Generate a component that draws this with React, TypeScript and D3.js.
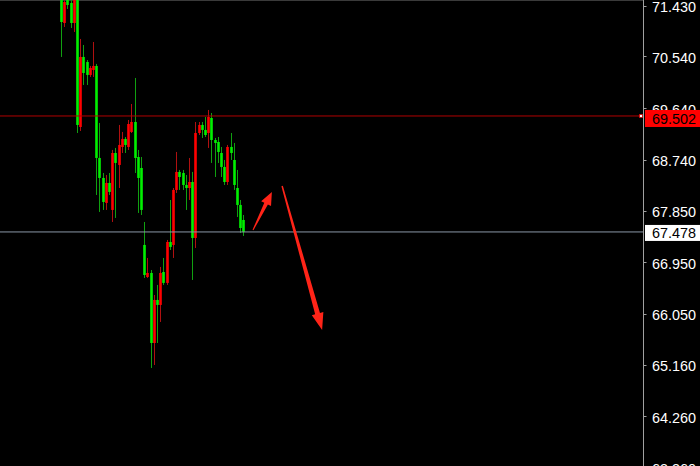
import React from 'react';
import * as d3 from 'd3';

// OHLC data (red = rising candle, green = falling candle)
const opens = [71.614, 71.125, 71.526, 71.474, 71.125, 71.561, 69.310, 70.532, 70.444, 70.218, 70.305, 70.375, 68.769, 68.420, 67.984, 68.333, 67.862, 68.856, 68.647, 68.961, 69.101, 68.961, 69.223, 69.397, 68.786, 68.594, 67.251, 66.692, 66.762, 65.540, 66.291, 66.204, 66.779, 66.588, 67.303, 67.251, 68.211, 68.525, 68.507, 68.298, 68.245, 68.350, 67.373, 69.205, 69.345, 69.258, 69.205, 69.467, 69.083, 69.048, 68.856, 68.612, 68.350, 68.961, 68.734, 68.245, 67.949, 67.687];
const highs = [71.736, 71.614, 71.579, 71.526, 71.666, 71.631, 70.846, 70.741, 70.479, 70.375, 70.793, 70.410, 69.380, 68.507, 68.472, 68.507, 68.909, 68.944, 69.345, 69.223, 69.135, 69.432, 69.711, 70.165, 68.909, 68.786, 67.652, 67.024, 66.814, 66.378, 66.553, 66.867, 67.024, 67.338, 68.036, 68.245, 68.874, 68.560, 68.560, 68.472, 68.769, 68.525, 69.397, 69.397, 69.397, 69.485, 69.607, 69.554, 69.118, 69.135, 68.961, 68.734, 68.996, 69.205, 69.031, 68.560, 68.036, 67.774];
const lows = [70.532, 71.055, 71.369, 71.038, 70.968, 69.205, 69.240, 70.043, 70.043, 70.183, 70.183, 68.123, 67.827, 67.862, 67.862, 68.123, 67.652, 67.722, 68.245, 68.856, 68.856, 68.909, 69.205, 68.507, 67.809, 67.774, 66.675, 66.675, 65.104, 65.156, 65.540, 65.907, 66.553, 66.553, 67.163, 67.024, 68.158, 68.211, 68.211, 67.862, 68.036, 66.640, 67.198, 69.170, 69.118, 69.135, 68.944, 68.682, 68.437, 68.682, 68.437, 68.298, 68.298, 68.734, 68.211, 67.739, 67.460, 67.408];
const closes = [71.142, 71.492, 71.439, 71.125, 71.561, 69.345, 70.532, 70.252, 70.218, 70.340, 70.375, 68.769, 68.420, 68.001, 68.333, 68.176, 68.856, 68.682, 68.996, 69.101, 68.996, 69.362, 69.397, 68.769, 68.420, 67.862, 66.727, 66.762, 65.540, 66.291, 66.204, 66.762, 66.588, 67.303, 67.216, 68.211, 68.525, 68.437, 68.298, 68.245, 68.350, 67.373, 69.205, 69.345, 69.258, 69.170, 69.485, 69.083, 69.031, 68.874, 68.612, 68.350, 68.961, 68.856, 68.298, 67.949, 67.547, 67.478];

const tickValues = [71.43, 70.54, 69.64, 68.74, 67.85, 66.95, 66.05, 65.16, 64.26, 63.36];
const bidPrice = 69.502;
const lastPrice = 67.478;

// annotation arrows in (bar index, price) units
const arrowTails = [[60.0, 67.513], [69.1, 68.28]];
const arrowTips = [[65.9, 68.176], [81.6, 65.767]];
const arrowSizes = [[1, 4, 11, 13], [1.5, 5, 12, 17]];

const W = 700;
const H = 466;
const AXIS_X = 643.5;

function arrowPath(x1: number, y1: number, x2: number, y2: number, tw: number, nw: number, hw: number, hl: number) {
  const dx = x2 - x1, dy = y2 - y1;
  const len = Math.hypot(dx, dy);
  const ux = dx / len, uy = dy / len;
  const nx = -uy, ny = ux;
  const kx = x2 - ux * hl, ky = y2 - uy * hl;
  const pts = [
    [x1 + nx * tw / 2, y1 + ny * tw / 2],
    [kx + nx * nw / 2, ky + ny * nw / 2],
    [kx + nx * hw / 2, ky + ny * hw / 2],
    [x2, y2],
    [kx - nx * hw / 2, ky - ny * hw / 2],
    [kx - nx * nw / 2, ky - ny * nw / 2],
    [x1 - nx * tw / 2, y1 - ny * tw / 2],
  ];
  return 'M' + pts.map(p => p[0].toFixed(2) + ',' + p[1].toFixed(2)).join('L') + 'Z';
}

export default function App() {
  const x = d3.scaleLinear().domain([0, 57]).range([61, 243.4]);
  const y = d3.scaleLinear().domain([63.36, 71.43]).range([467.9, 5.5]);
  const bw = 2.6;
  const font = '"Liberation Sans", Arial, sans-serif';

  const bidY = y(bidPrice);
  const lastY = y(lastPrice);

  return (
    <svg width={W} height={H} style={{ position: 'fixed', left: 0, top: 0, display: 'block', background: '#000' }}>
      <rect x={0} y={0} width={W} height={H} fill="#000" />
      <line x1={0} x2={AXIS_X} y1={0.5} y2={0.5} stroke="#3a3a3a" />
      {/* candles */}
      {opens.map((o, i) => {
        const c = closes[i];
        const up = c > o;
        const cx = Math.round(x(i)) + 0.5;
        const top = y(Math.max(o, c));
        const bot = y(Math.min(o, c));
        return (
          <g key={i}>
            <line x1={cx} x2={cx} y1={y(highs[i])} y2={y(lows[i])} stroke={up ? '#b01010' : '#10a010'} strokeWidth={1} />
            <rect x={cx - bw / 2} y={top} width={bw} height={Math.max(1, bot - top)} fill={up ? '#ff0000' : '#00f000'} />
          </g>
        );
      })}
      {/* price lines */}
      <line x1={0} x2={AXIS_X} y1={bidY} y2={bidY} stroke="#b00000" strokeWidth={1} />
      <rect x={639.5} y={bidY - 1.5} width={3} height={3} fill="#fff" stroke="#d00000" strokeWidth={0.8} />
      <line x1={0} x2={AXIS_X} y1={lastY} y2={lastY} stroke="#8a96a6" strokeWidth={1} />
      {/* arrows */}
      {arrowTails.map((t, i) => {
        const s = arrowSizes[i];
        return (
          <path key={'a' + i}
            d={arrowPath(x(t[0]), y(t[1]), x(arrowTips[i][0]), y(arrowTips[i][1]), s[0], s[1], s[2], s[3])}
            fill="#ff2418" />
        );
      })}
      {/* axis */}
      <line x1={AXIS_X} x2={AXIS_X} y1={0} y2={H} stroke="#a0a0a0" strokeWidth={1} />
      {tickValues.map((v, i) => (
        <g key={'t' + i}>
          <line x1={AXIS_X} x2={AXIS_X + 3} y1={Math.round(y(v)) + 0.5} y2={Math.round(y(v)) + 0.5} stroke="#a0a0a0" />
          <text x={652} y={y(v) + 6.5} fill="#fff" fontSize={15} fontFamily={font} textLength={44} lengthAdjust="spacingAndGlyphs">
            {v.toFixed(3)}
          </text>
        </g>
      ))}
      {/* price tags */}
      <rect x={645} y={bidY - 6} width={55} height={17} fill="#ff0000" />
      <text x={652} y={bidY + 8.5} fill="#000" fontSize={15} fontFamily={font} textLength={44} lengthAdjust="spacingAndGlyphs">{bidPrice.toFixed(3)}</text>
      <rect x={645} y={lastY - 7} width={55} height={16} fill="#ffffff" />
      <text x={652} y={lastY + 6.5} fill="#000" fontSize={15} fontFamily={font} textLength={44} lengthAdjust="spacingAndGlyphs">{lastPrice.toFixed(3)}</text>
    </svg>
  );
}
